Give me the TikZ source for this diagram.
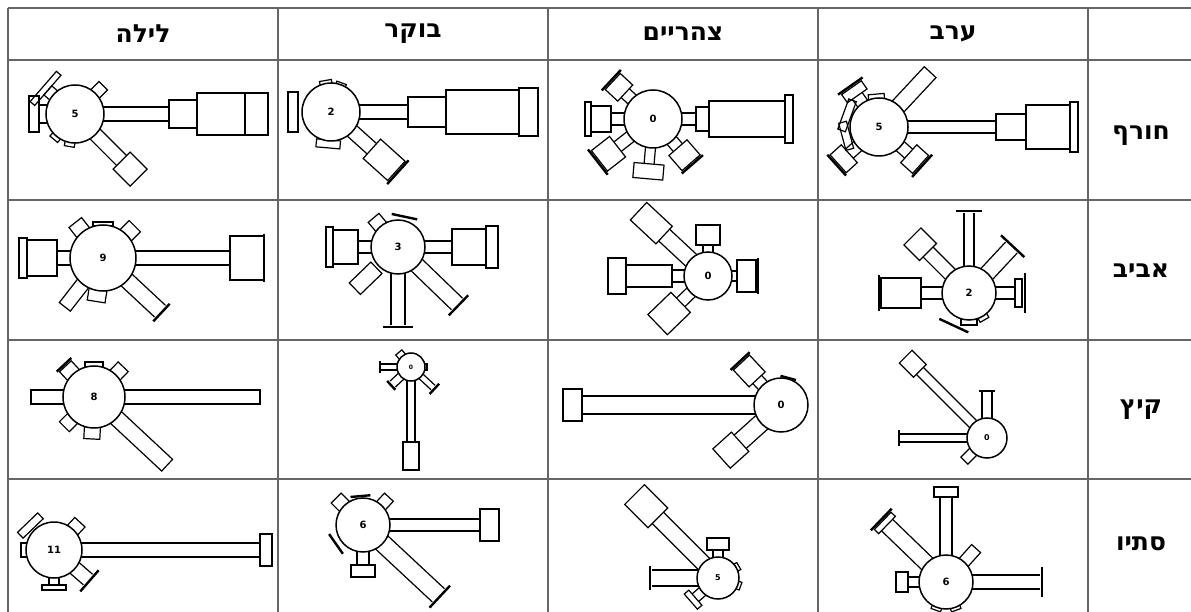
\documentclass[tikz,border=0pt]{standalone}
\usepackage{fontspec}
\usepackage{tikz}
\usetikzlibrary{positioning}
\newfontfamily\hebfont[Script=Hebrew]{DejaVu Sans}
\newfontfamily\numfont{DejaVu Sans}
\TeXXeTstate=1
\tikzset{
grid/.style = {draw=black!60, line width=1.2pt},
title/.style = {font=\hebfont\bfseries\fontsize{25}{28}\selectfont},
hub/.style = {draw, fill=white, circle, line width=1.5pt, inner sep=0pt, minimum size=#1, font=\numfont\bfseries\fontsize{10}{12}\selectfont},
part/.style = {draw, line width=1.2pt},
plate/.style = {draw, line width=2.4pt}
}
\newcommand{\armstem}[4]{\draw[part,rotate=#1] (#2,-#4) -- (#3,-#4) (#2,#4) -- (#3,#4);}
\newcommand{\armbox}[4]{\draw[part,rotate=#1] (#2,-#4) rectangle (#3,#4);}
\newcommand{\armplate}[3]{\draw[plate,rotate=#1] (#2,-#3) -- (#2,#3);}
\begin{document}
\begin{tikzpicture}[x=1pt,y=-1pt]
    \useasboundingbox (0,0) rectangle (1191,612);
    \foreach \y in {8,60,200,340,479}
        \draw[grid] (8,\y) -- (1191,\y);
    \foreach \x in {8,278,548,818,1088}
        \draw[grid] (\x,8) -- (\x,612);

    \node[title] (h1) at (143,34) {\beginR לילה\endR};
    \node[title] (h2) at (413,34) {\beginR בוקר\endR};
    \node[title] (h3) at (683,34) {\beginR צהריים\endR};
    \node[title] (h4) at (953,34) {\beginR ערב\endR};
    \node[title] (s1) at (1141,136) {\beginR חורף\endR};
    \node[title] (s2) at (1141,271) {\beginR אביב\endR};
    \node[title] (s3) at (1141,410) {\beginR קיץ\endR};
    \node[title] (s4) at (1141,544) {\beginR סתיו\endR};

    \begin{scope}[shift={(75,114)}]
        \armstem{0}{28}{94}{7} \armbox{0}{94}{122}{14} \armbox{0}{122}{193}{21} \armbox{0}{170}{193}{21}
        \armstem{-45}{28}{66}{7} \armbox{-45}{66}{90}{12}
        \armstem{180}{28}{36}{9} \armbox{180}{36}{46}{18}
        \armbox{139}{28}{36}{6} \armbox{139}{36}{42}{20}
        \armbox{45}{28}{40}{6} \armbox{-100}{28}{33}{5} \armbox{-130}{28}{33}{5}
        \node[hub=58] (c11) at (0,0) {5};
    \end{scope}
    \begin{scope}[shift={(331,112)}]
        \armstem{0}{28}{77}{7} \armbox{0}{77}{115}{15} \armbox{0}{115}{188}{22} \armbox{0}{188}{207}{24}
        \armbox{180}{33}{43}{20}
        \armstem{-42}{28}{55}{7} \armbox{-42}{55}{88}{13} \armplate{-42}{90}{16}
        \armbox{-95}{28}{36}{12}
        \armbox{100}{28}{32}{6} \armbox{70}{28}{31}{5}
        \node[hub=58] (c12) at (0,0) {2};
    \end{scope}
    \begin{scope}[shift={(653,119)}]
        \armstem{0}{28}{43}{6} \armbox{0}{43}{56}{12} \armbox{0}{56}{132}{18} \armbox{0}{132}{140}{24}
        \armstem{180}{28}{42}{6} \armbox{180}{42}{62}{13} \armbox{180}{62}{68}{17}
        \armstem{137}{28}{38}{6} \armbox{137}{38}{55}{11} \armplate{137}{57}{14}
        \armstem{-142}{28}{45}{6} \armbox{-142}{45}{68}{13} \armplate{-142}{70}{16}
        \armstem{-95}{28}{45}{5} \armbox{-95}{45}{60}{15}
        \armstem{-49}{28}{38}{6} \armbox{-49}{38}{58}{12} \armplate{-49}{60}{14}
        \node[hub=58] (c13) at (0,0) {0};
    \end{scope}
    \begin{scope}[shift={(879,127)}]
        \armstem{0}{28}{117}{6} \armbox{0}{117}{147}{13} \armbox{0}{147}{191}{22} \armbox{0}{191}{199}{25}
        \armbox{47}{28}{75}{8}
        \armstem{125}{28}{38}{6} \armbox{125}{38}{48}{12} \armplate{125}{50}{15}
        \armbox{160}{30}{38}{16} \armbox{195}{30}{38}{14}
        \armstem{-138}{28}{40}{6} \armbox{-138}{40}{55}{12} \armplate{-138}{57}{14}
        \armstem{-42}{28}{40}{6} \armbox{-42}{40}{56}{12} \armplate{-42}{58}{15}
        \armbox{95}{28}{33}{8}
        \node[hub=58] (c14) at (0,0) {5};
    \end{scope}

    \begin{scope}[shift={(103,258)}]
        \armstem{0}{32}{127}{7} \armbox{0}{127}{161}{22} \armplate{0}{161}{24}
        \armstem{180}{32}{46}{7} \armbox{180}{46}{76}{18} \armbox{180}{76}{84}{20}
        \armbox{128}{32}{45}{8} \armbox{45}{32}{45}{8} \armbox{90}{32}{36}{10}
        \armstem{-43}{32}{78}{8} \armplate{-43}{80}{12}
        \armbox{-128}{32}{62}{7} \armbox{-99}{32}{44}{9}
        \node[hub=66] (c21) at (0,0) {9};
    \end{scope}
    \begin{scope}[shift={(398,247)}]
        \armstem{0}{26}{54}{6} \armbox{0}{54}{88}{18} \armbox{0}{88}{100}{21}
        \armstem{180}{26}{40}{6} \armbox{180}{40}{65}{17} \armbox{180}{65}{72}{20}
        \armstem{-90}{26}{78}{7} \armplate{-90}{80}{15}
        \armstem{-44}{26}{82}{8} \armplate{-44}{84}{14}
        \armbox{-136}{30}{60}{8} \armbox{130}{26}{38}{7} \armplate{78}{31}{13}
        \node[hub=54] (c22) at (0,0) {3};
    \end{scope}
    \begin{scope}[shift={(708,276)}]
        \armstem{0}{23}{29}{5} \armbox{0}{29}{48}{16} \armplate{0}{50}{18}
        \armstem{180}{23}{36}{6} \armbox{180}{36}{82}{11} \armbox{180}{82}{100}{18}
        \armstem{90}{23}{31}{5} \armbox{90}{31}{51}{12}
        \armstem{137}{23}{60}{8} \armbox{137}{60}{95}{12}
        \armstem{-136}{23}{38}{6} \armbox{-136}{38}{70}{14}
        \node[hub=48] (c23) at (0,0) {0};
    \end{scope}
    \begin{scope}[shift={(969,293)}]
        \armstem{90}{26}{80}{5} \armplate{90}{82}{13}
        \armstem{135}{26}{58}{7} \armbox{135}{58}{80}{12}
        \armstem{47}{26}{62}{8} \armplate{47}{64}{16}
        \armstem{180}{26}{48}{6} \armbox{180}{48}{88}{15} \armplate{180}{90}{18}
        \armstem{0}{26}{46}{6} \armbox{0}{46}{53}{14} \armplate{0}{56}{20}
        \armplate{-115}{36}{16} \armbox{-90}{26}{32}{8} \armbox{-60}{26}{31}{5}
        \node[hub=54] (c24) at (0,0) {2};
    \end{scope}

    \begin{scope}[shift={(94,397)}]
        \armbox{0}{30}{166}{7} \armbox{180}{30}{63}{7}
        \armbox{-43}{30}{100}{8}
        \armbox{133}{30}{42}{8} \armplate{133}{44}{10}
        \armbox{90}{30}{35}{9} \armbox{46}{30}{42}{7}
        \armbox{-135}{30}{42}{7} \armbox{-93}{30}{42}{8}
        \node[hub=62] (c31) at (0,0) {8};
    \end{scope}
    \begin{scope}[shift={(411,367)}]
        \armstem{-90}{13}{75}{4} \armbox{-90}{75}{103}{8}
        \armstem{180}{13}{30}{3} \armplate{180}{31}{6}
        \armstem{-137}{13}{25}{4} \armplate{-137}{27}{6}
        \armstem{-43}{13}{30}{3} \armplate{-43}{32}{7}
        \armbox{130}{13}{19}{4} \armbox{0}{13}{16}{3}
        \node[hub=28, font=\numfont\bfseries\fontsize{6}{7}\selectfont] (c32) at (0,0) {0};
    \end{scope}
    \begin{scope}[shift={(781,405)}]
        \armstem{180}{26}{199}{9} \armbox{180}{199}{218}{16}
        \armstem{133}{26}{35}{6} \armbox{133}{35}{58}{11} \armplate{133}{60}{13}
        \armstem{-138}{26}{55}{9} \armbox{-138}{55}{80}{13}
        \armplate{75}{28}{8}
        \node[hub=54] (c33) at (0,0) {0};
    \end{scope}
    \begin{scope}[shift={(987,438)}]
        \armstem{135}{19}{95}{5} \armbox{135}{95}{115}{9}
        \armstem{180}{19}{87}{4} \armplate{180}{88}{8}
        \armstem{90}{19}{46}{5} \armplate{90}{47}{8}
        \armbox{-135}{19}{32}{5}
        \node[hub=40, font=\numfont\bfseries\fontsize{8}{9}\selectfont] (c34) at (0,0) {0};
    \end{scope}

    \begin{scope}[shift={(54,550)}]
        \armstem{0}{27}{206}{7} \armbox{0}{206}{218}{16}
        \armbox{134}{30}{38}{14} \armbox{47}{27}{38}{7} \armbox{180}{27}{33}{7}
        \armstem{-90}{27}{35}{5} \armbox{-90}{35}{40}{12}
        \armstem{-41}{27}{45}{7} \armplate{-41}{47}{14}
        \node[hub=56] (c41) at (0,0) {11};
    \end{scope}
    \begin{scope}[shift={(363,525)}]
        \armstem{0}{26}{117}{6} \armbox{0}{117}{136}{16}
        \armstem{-43}{26}{103}{9} \armplate{-43}{105}{15}
        \armstem{-90}{26}{40}{6} \armbox{-90}{40}{52}{12}
        \armbox{135}{26}{38}{7} \armbox{47}{26}{38}{6}
        \armplate{95}{29}{10} \armplate{-145}{33}{12}
        \node[hub=54] (c42) at (0,0) {6};
    \end{scope}
    \begin{scope}[shift={(718,578)}]
        \armstem{135}{20}{85}{8} \armbox{135}{85}{118}{14}
        \armstem{90}{20}{28}{5} \armbox{90}{28}{40}{11}
        \armstem{180}{20}{66}{8} \armplate{180}{68}{12}
        \armstem{-139}{20}{30}{5} \armbox{-139}{30}{36}{10}
        \armbox{30}{20}{24}{4} \armbox{-20}{20}{24}{4}
        \node[hub=42, font=\numfont\bfseries\fontsize{8}{9}\selectfont] (c43) at (0,0) {5};
    \end{scope}
    \begin{scope}[shift={(946,582)}]
        \armstem{90}{26}{85}{6} \armbox{90}{85}{95}{12}
        \armstem{136}{26}{82}{8} \armbox{136}{82}{88}{12} \armplate{136}{90}{15}
        \armbox{48}{26}{45}{6}
        \armstem{0}{26}{94}{7} \armplate{0}{96}{15}
        \armstem{180}{26}{38}{5} \armbox{180}{38}{50}{10}
        \armbox{-70}{26}{30}{5} \armbox{-110}{26}{30}{5}
        \node[hub=54] (c44) at (0,0) {6};
    \end{scope}
\end{tikzpicture}
\end{document}
